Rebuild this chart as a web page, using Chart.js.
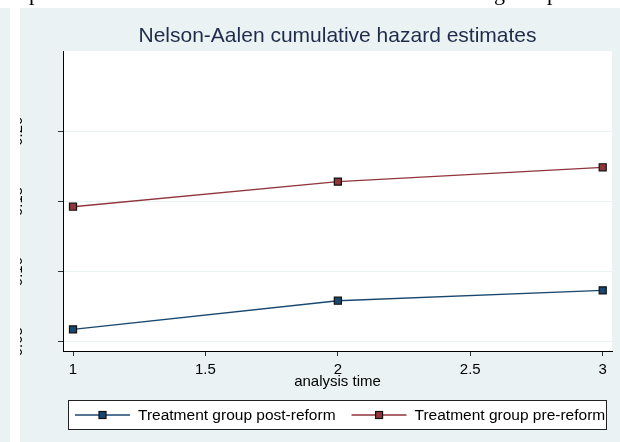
<!DOCTYPE html>
<html>
<head>
<meta charset="utf-8">
<script src="https://cdn.jsdelivr.net/npm/chart.js@4/dist/chart.umd.min.js"></script>
<style>
  html, body { margin: 0; padding: 0; background: #ffffff; }
  canvas { display: block; }
</style>
</head>
<body>
<canvas id="na" width="620" height="442"></canvas>
<script>
// Nelson-Aalen cumulative hazard by analysis time
const analysisTime = [1, 2, 3];
const postReform = [0.0588, 0.0792, 0.0866];
const preReform = [0.1462, 0.1641, 0.1743];
const seriesNames = ['Treatment group post-reform', 'Treatment group pre-reform'];
const xTickValues = [1, 1.5, 2, 2.5, 3];
const yTickValues = [0.05, 0.10, 0.15, 0.20];

const NAVY = '#1A476F';
const MAROON = '#90353B';
const PANEL = '#EAF2F3';
const SANS = '"Liberation Sans", Arial, Helvetica, sans-serif';

function toPoints(xs, ys) {
  return xs.map((x, i) => ({ x: x, y: ys[i] }));
}

// Panel background, plot region and the clipped caption line above the figure
const framePlugin = {
  id: 'frame',
  beforeDraw(chart) {
    const ctx = chart.ctx;
    const a = chart.chartArea;
    ctx.save();
    ctx.fillStyle = '#ffffff';
    ctx.fillRect(0, 0, chart.width, chart.height);
    // descenders of the text line that runs above the figure
    ctx.fillStyle = '#000000';
    ctx.font = '22px "Liberation Serif", "Times New Roman", serif';
    ctx.textBaseline = 'alphabetic';
    ctx.fillText('p', 29, 0);
    ctx.fillText('g', 494, 0);
    ctx.fillText('p', 547, 0);
    ctx.fillStyle = PANEL;
    ctx.fillRect(0, 8, 10, chart.height - 8);
    ctx.fillRect(20, 8, chart.width - 20, chart.height - 8);
    ctx.fillStyle = '#ffffff';
    ctx.fillRect(a.left, a.top, a.right - a.left, a.bottom - a.top);
    ctx.restore();
  }
};

// Boxed key below the axis: line + square marker per series
const keyPlugin = {
  id: 'keyBox',
  afterDraw(chart) {
    const ctx = chart.ctx;
    const box = { left: 68.5, top: 400.5, right: 606.5, bottom: 429.5 };
    const midY = (box.top + box.bottom) / 2;
    ctx.save();
    ctx.fillStyle = '#ffffff';
    ctx.fillRect(box.left, box.top, box.right - box.left, box.bottom - box.top);
    ctx.strokeStyle = '#222222';
    ctx.lineWidth = 1;
    ctx.strokeRect(box.left, box.top, box.right - box.left, box.bottom - box.top);
    ctx.font = '15.5px ' + SANS;
    ctx.textBaseline = 'middle';
    ctx.textAlign = 'left';
    let x = box.left + 6.5;
    chart.data.datasets.forEach((ds) => {
      ctx.strokeStyle = ds.borderColor;
      ctx.lineWidth = ds.borderWidth;
      ctx.beginPath();
      ctx.moveTo(x, midY);
      ctx.lineTo(x + 55, midY);
      ctx.stroke();
      const cx = x + 27.5;
      ctx.fillStyle = ds.pointBackgroundColor;
      ctx.fillRect(cx - 3.5, midY - 3.5, 7, 7);
      ctx.strokeStyle = ds.pointBorderColor;
      ctx.lineWidth = ds.pointBorderWidth;
      ctx.strokeRect(cx - 3.5, midY - 3.5, 7, 7);
      ctx.fillStyle = '#000000';
      ctx.fillText(ds.label, x + 63, midY + 0.5);
      x += 63 + ctx.measureText(ds.label).width + 16;
    });
    ctx.restore();
  }
};

function series(label, values, color) {
  return {
    label: label,
    data: toPoints(analysisTime, values),
    borderColor: color,
    borderWidth: 1.3,
    pointStyle: 'rect',
    pointRadius: 5,
    pointHoverRadius: 5,
    pointBackgroundColor: color,
    pointBorderColor: '#111111',
    pointBorderWidth: 1.2,
    tension: 0,
    fill: false
  };
}

new Chart(document.getElementById('na'), {
  type: 'line',
  data: {
    datasets: [
      series(seriesNames[0], postReform, NAVY),
      series(seriesNames[1], preReform, MAROON)
    ]
  },
  options: {
    responsive: false,
    animation: false,
    devicePixelRatio: 1,
    layout: { padding: { left: 20, right: 8, top: 23.4, bottom: 50.8 } },
    plugins: {
      legend: { display: false },
      tooltip: { enabled: false },
      title: {
        display: true,
        fullSize: false,
        text: 'Nelson-Aalen cumulative hazard estimates',
        color: '#1E2B4A',
        font: { family: SANS, size: 21, weight: 'normal' },
        padding: { top: 0, bottom: 2.4 }
      }
    },
    scales: {
      x: {
        type: 'linear',
        min: 0.9622,
        max: 3.0351,
        afterBuildTicks(scale) { scale.ticks = xTickValues.map(v => ({ value: v })); },
        afterFit(scale) { scale.height = 40.2; },
        ticks: {
          padding: 5,
          color: '#000000',
          font: { family: SANS, size: 15 },
          maxRotation: 0,
          autoSkip: false,
          callback: (v) => String(v)
        },
        grid: { drawOnChartArea: false, tickLength: 5, tickColor: '#333333', tickWidth: 1 },
        border: { display: true, color: '#000000', width: 1 },
        title: {
          display: true,
          text: 'analysis time',
          color: '#000000',
          font: { family: SANS, size: 15 },
          padding: { top: 0, bottom: 0 }
        }
      },
      y: {
        type: 'linear',
        min: 0.04337,
        max: 0.2572,
        afterBuildTicks(scale) { scale.ticks = yTickValues.map(v => ({ value: v })); },
        afterFit(scale) { scale.width = 43; },
        ticks: {
          minRotation: 90,
          maxRotation: 90,
          crossAlign: 'center',
          padding: 25.4,
          color: '#000000',
          font: { family: SANS, size: 15 },
          autoSkip: false,
          callback: (v) => v.toFixed(2)
        },
        grid: { color: PANEL, lineWidth: 1, tickLength: 5, tickColor: '#333333', tickWidth: 1 },
        border: { display: true, color: '#000000', width: 1 }
      }
    }
  },
  plugins: [framePlugin, keyPlugin]
});
</script>
</body>
</html>
